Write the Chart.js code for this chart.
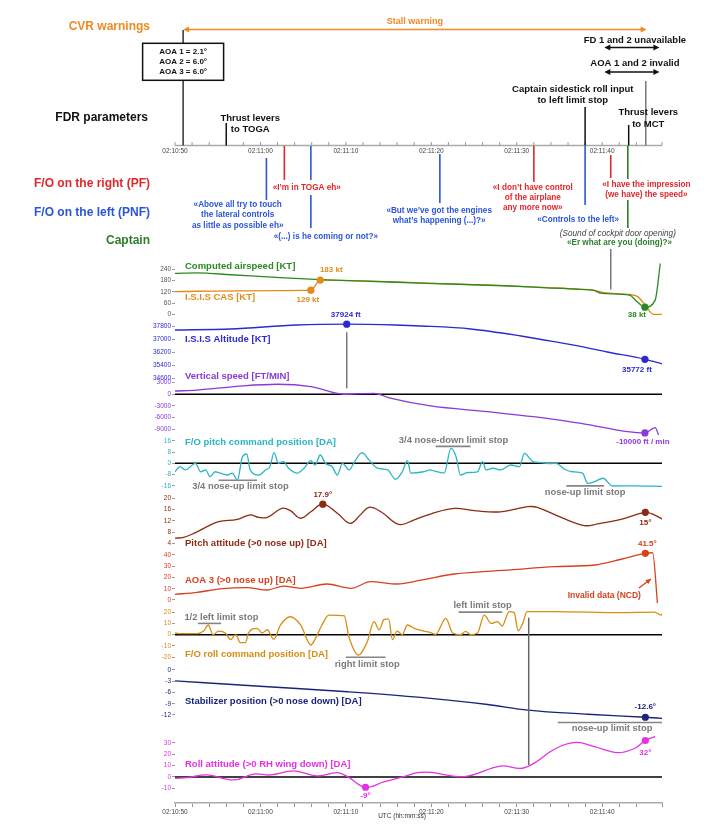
<!DOCTYPE html>
<html>
<head>
<meta charset="utf-8">
<title>AF447 FDR / CVR</title>
<script src="https://cdn.jsdelivr.net/npm/chart.js@4.4.1/dist/chart.umd.min.js"></script>
<style>
  html, body { margin: 0; padding: 0; background: #fff; }
  #wrap { width: 720px; height: 832px; }
</style>
</head>
<body>
<div id="wrap"><canvas id="fdr"></canvas></div>
<script>
// time in seconds after 02:10:50 UTC
const timeLabels = ['02:10:50', '02:11:00', '02:11:10', '02:11:20', '02:11:30', '02:11:40'];

// CVR / FDR events (seconds)
const stallWarning = [0.95, 55.2];
const aoaBoxLines = ['AOA 1 = 2.1°', 'AOA 2 = 6.0°', 'AOA 3 = 6.0°'];
const fdrTimes = [6.0, 48.0, 53.1];
const fdrLabels = [['Thrust levers', 'to TOGA'], ['Captain sidestick roll input', 'to left limit stop'], ['Thrust levers', 'to MCT']];
const fdSpan = [50.25, 56.7];
const aoaInvalidTime = 55.1;
const pfTimes = [12.8, 42.0, 51.0];
const pfQuotes = [['«I’m in TOGA eh»'], ['«I don’t have control', 'of the airplane', 'any more now»'], ['«I have the impression', '(we have) the speed»']];
const pnfTimes = [10.7, 15.9, 31.0, 48.0];
const pnfQuotes = [['«Above all try to touch', 'the lateral controls', 'as little as possible eh»'], ['«(...) is he coming or not?»'], ['«But we’ve got the engines', 'what’s happening (...)?»'], ['«Controls to the left»']];
const captainTimes = [53.0];
const captainNote = '(Sound of cockpit door opening)';
const captainQuote = '«Er what are you (doing)?»';
const doorTime = 51.0;
const altPeakTime = 20.1;
const rollInputTime = 41.4;

// FDR series
const speedTime = [0, 2.6, 6.5, 12.3, 17.0, 22.1, 29.5, 38.5, 43.0, 47.5, 49.0, 50.0, 53.2, 54.1, 55.0, 56.2, 56.8];
const speedValue = [219, 222, 212, 196, 186, 178, 166, 153, 143, 133, 128, 112, 103, 67, 38, 76, 272];
const casTime = [0, 8.0, 15.9, 17.0, 22.1, 29.5, 38.5, 43.0, 47.5, 49.0, 50.2, 53.2, 54.1, 55.0, 55.6, 56.0, 57.0];
const casValue = [122, 126, 129, 183, 179, 167, 154, 144, 134, 129, 116, 106, 96, 52, 14, 0, 0];
const altTime = [0, 6.5, 14.3, 20.1, 25.8, 28.8, 34.6, 40.5, 44.4, 48.3, 50.6, 55.0, 57.1];
const altValue = [37568, 37630, 37875, 37924, 37875, 37814, 37630, 37200, 36850, 36470, 36220, 35772, 35480];
const vsTime = [0, 2.6, 8.0, 12.0, 15.9, 19.8, 21.5, 23.3, 25.2, 29.9, 36.6, 42.0, 47.5, 55.0, 56.2, 56.6];
const vsValue = [850, 1100, 2200, 2600, 2000, 0, 150, 250, -1000, -3000, -4500, -5800, -7500, -10000, -8600, -10500];
const pitchCmdTime = [0, 0.6, 1.2, 2.4, 3.0, 3.6, 4.1, 4.7, 5.3, 6.1, 6.7, 7.3, 7.9, 8.4, 8.8, 9.8, 10.6, 11.1, 11.6, 12.1,
  12.7, 13.3, 14.3, 15.1, 15.9, 16.4, 17.0, 17.6, 18.4, 19.0, 19.6, 20.4, 20.9, 21.9, 22.7, 23.7, 24.9, 25.8, 26.6, 27.2,
  27.6, 29.1, 29.9, 30.3, 31.5, 32.3, 32.9, 33.4, 34.2, 35.4, 36.0, 36.4, 37.2, 38.1, 39.3, 40.3, 40.9, 41.9, 42.8, 44.0,
  44.6, 45.6, 46.5, 47.7, 48.3, 49.1, 50.1, 51.2, 53.7, 57.1];
const pitchCmdValue = [-6, -2.4, -4.7, 0, -6, -4.7, -9.5, -6, -7, -8.3, -7, -11.8, 4.7, 6.6, -4.7, -8.3, -4.7, -2.4, 7.5, 0,
  1.2, -3.5, -7, -3.5, 1.9, -1.2, 5.9, 0, -2.4, -8.3, 0, -4.7, 0, 7.5, 2.4, -3.5, -4.7, -11.3, -6, 1.9,
  -7, -6, -4.7, -5.4, -7, 10.6, 4.7, -8.3, -6.6, -6, 1.2, -4.7, -3.5, -4.7, -1.2, -2.4, 7, 1.2, 0.5, -0.2,
  0, -4.2, -6, -7, -14.2, -13, -10.6, -16.1, -16, -16.4];
const pitchTime = [0, 1.0, 2.2, 3.75, 5.1, 7.3, 8.8, 9.8, 10.8, 12.5, 13.5, 14.7, 15.9, 17.3, 19.0, 20.5, 21.7, 22.7, 24.1,
  26.2, 28.0, 29.9, 32.7, 35.0, 38.1, 41.3, 42.4, 45.2, 47.9, 49.5, 52.2, 55.05, 56.1, 57.1];
const pitchValue = [5.8, 6.1, 7.5, 9.9, 11.7, 12.5, 14.1, 13.2, 13.2, 16.4, 15.6, 12.9, 15.2, 17.9, 14.7, 11.1, 14.1, 16.8, 15.2,
  10.7, 12.3, 14.4, 16.4, 15.6, 15.2, 17.0, 16.8, 13.2, 10.3, 10.9, 12.5, 15, 14.1, 12.5];
const aoaTime = [0, 2.6, 5.3, 8.4, 10.8, 12.7, 14.7, 17.8, 20.6, 22.9, 26.0, 28.8, 32.7, 39.3, 44.4, 49.1, 52.2, 55.05, 55.9, 56.5];
const aoaValue = [5.0, 6.8, 9.8, 11.0, 8.9, 12.4, 10.4, 14.2, 10.4, 16.3, 14.2, 17.6, 23.1, 26.7, 29.6, 31.1, 36.2, 41.5, 42.0, -6.0];
const rollCmdTime = [0, 0.6, 2.6, 3.35, 3.9, 4.45, 5.1, 5.9, 6.5, 7.1, 7.65, 8.25, 8.6, 9.6, 10.2, 10.8, 11.55, 12.35, 13.5, 14.7,
  15.9, 16.45, 17.2, 18.0, 19.8, 20.35, 21.5, 22.5, 23.3, 23.9, 24.45, 25.0, 25.45, 26.0, 26.6, 27.2, 28.0, 29.15, 29.9, 30.5,
  31.7, 32.5, 33.45, 34.0, 34.6, 35.4, 36.2, 37.0, 37.75, 38.3, 39.1, 39.7, 40.15, 40.7, 41.2, 44.4, 52.2, 56.1, 56.9, 57.1];
const rollCmdValue = [1.8, 0.9, 0.9, 3.2, 8.6, 0, 3.2, 1.5, -4.4, 0, -7, -7, 1.5, 5.6, 1.5, 4.4, -4.1, 8.6, 15.9, 8.6,
  -9.1, -3.2, 8.6, 17.4, 16.8, -1.8, -18, -6.2, 11.5, 4.4, 13.3, 14, -4.4, 3.2, 0, 8.6, 5.6, 3.2, 1.8, 0.3,
  14.5, 1.5, 0, 2.9, 0, 1.5, 17.4, 10, 11.5, 7.7, 20.4, 19.5, 3.5, 10, 20.4, 20.4, 19.5, 20, 17.4, 19.5];
const stabTime = [0, 10.4, 20.2, 28.75, 36.6, 41.3, 48.3, 55.05, 57.1];
const stabValue = [-2.9, -4.4, -5.8, -7.3, -9.2, -10.7, -11.8, -12.6, -12.9];
const rollTime = [0, 1.4, 3.75, 6.9, 9.2, 11.2, 13.9, 16.6, 19.0, 20.2, 22.3, 24.5, 26.8, 28.4, 29.9, 33.8, 38.1, 40.5, 42.0,
  44.4, 46.9, 49.1, 51.8, 53.8, 55.05, 56.2];
const rollValue = [-1.2, -0.6, 1.8, -2.6, 2.6, 1.8, 5.3, 0.9, 3.8, 0.3, -9, -4.1, 0.3, 3.8, 4.1, 0.3, 9.6, 7.6, 12,
  24.3, 30.4, 26.6, 21.3, 25, 32, 35.4];

// marked points
const casMarkTime = [15.9, 17.0];
const casMarkValue = [129, 183];
const casMarkLabel = ['129 kt', '183 kt'];
const speedMarkTime = [55.0];
const speedMarkValue = [38];
const speedMarkLabel = ['38 kt'];
const altMarkTime = [20.1, 55.0];
const altMarkValue = [37924, 35772];
const altMarkLabel = ['37924 ft', '35772 ft'];
const vsMarkTime = [55.0];
const vsMarkValue = [-10000];
const vsMarkLabel = ['-10000 ft / min'];
const pitchMarkTime = [17.3, 55.05];
const pitchMarkValue = [17.9, 15];
const pitchMarkLabel = ['17.9°', '15°'];
const aoaMarkTime = [55.05];
const aoaMarkValue = [41.5];
const aoaMarkLabel = ['41.5°'];
const stabMarkTime = [55.05];
const stabMarkValue = [-12.6];
const stabMarkLabel = ['-12.6°'];
const rollMarkTime = [22.3, 55.05];
const rollMarkValue = [-9, 32];
const rollMarkLabel = ['-9°', '32°'];

// limit stops
const pitchStopStart = [5.1, 30.5, 45.8];
const pitchStopEnd = [9.6, 34.6, 50.2];
const pitchStopValue = [-12, 12, -16];
const pitchStopLabel = ['3/4 nose-up limit stop', '3/4 nose-down limit stop', 'nose-up limit stop'];
const rollStopStart = [2.7, 20.0, 33.2];
const rollStopEnd = [5.4, 24.65, 38.3];
const rollStopValue = [10, -20, 20];
const rollStopLabel = ['1/2 left limit stop', 'right limit stop', 'left limit stop'];
const stabStopStart = [44.8];
const stabStopEnd = [57];
const stabStopValue = [-14];
const stabStopLabel = ['nose-up limit stop'];

const FONT = '"Liberation Sans", Arial, sans-serif';
Chart.defaults.font.family = FONT;

const col = {
  cvr: '#f08a22', pf: '#e3262b', pnf: '#2a55d8', capt: '#2c7d2c', stop: '#858585',
  speed: '#2a8a22', cas: '#e08c1c', alt: '#2a2ad0', vs: '#8a3ad8', pcmd: '#2ab6c2',
  pitch: '#8b2c12', aoa: '#d8401c', rcmd: '#d88c12', stab: '#1a2478', roll: '#e232e2'
};

const zip = (ts, vs) => ts.map((t, i) => ({ x: t, y: vs[i] }));

function series(ts, vs, axis, color, smooth) {
  const ds = { data: zip(ts, vs), yAxisID: axis, borderColor: color, borderWidth: 1.3,
    pointRadius: 0, fill: false };
  if (smooth) ds.tension = 0.4;
  else ds.cubicInterpolationMode = 'monotone';
  return ds;
}
function marks(ts, vs, axis, color) {
  return { data: zip(ts, vs), yAxisID: axis, showLine: false, pointRadius: 3.6,
    pointBackgroundColor: color, pointBorderColor: color, pointBorderWidth: 0 };
}
function hline(t0, t1, v, axis, color, w) {
  return { data: zip([t0, t1], [v, v]), yAxisID: axis, borderColor: color, borderWidth: w, pointRadius: 0 };
}

const datasets = [
  marks(casMarkTime, casMarkValue, 'speed', col.cas),
  marks(speedMarkTime, speedMarkValue, 'speed', col.speed),
  marks(altMarkTime, altMarkValue, 'alt', col.alt),
  marks(vsMarkTime, vsMarkValue, 'vs', col.vs),
  marks(pitchMarkTime, pitchMarkValue, 'pitch', col.pitch),
  marks(aoaMarkTime, aoaMarkValue, 'aoa', col.aoa),
  marks(stabMarkTime, stabMarkValue, 'stab', col.stab),
  marks(rollMarkTime, rollMarkValue, 'roll', col.roll),
  series(speedTime, speedValue, 'speed', col.speed),
  series(casTime, casValue, 'speed', col.cas),
  series(altTime, altValue, 'alt', col.alt),
  series(vsTime, vsValue, 'vs', col.vs),
  series(pitchCmdTime, pitchCmdValue, 'pcmd', col.pcmd),
  series(pitchTime, pitchValue, 'pitch', col.pitch, true),
  series(aoaTime, aoaValue, 'aoa', col.aoa),
  series(rollCmdTime, rollCmdValue, 'rcmd', col.rcmd),
  series(stabTime, stabValue, 'stab', col.stab),
  series(rollTime, rollValue, 'roll', col.roll, true)
];
pitchStopValue.forEach((v, i) => datasets.push(hline(pitchStopStart[i], pitchStopEnd[i], v, 'pcmd', col.stop, 1.6)));
rollStopValue.forEach((v, i) => datasets.push(hline(rollStopStart[i], rollStopEnd[i], v, 'rcmd', col.stop, 1.6)));
stabStopValue.forEach((v, i) => datasets.push(hline(stabStopStart[i], stabStopEnd[i], v, 'stab', col.stop, 1.6)));
['vs', 'pcmd', 'rcmd', 'roll'].forEach(id => datasets.push(hline(0, 57, 0, id, '#000', 1.6)));

function strip(weight, stackWeight, min, max, ticks, color) {
  return {
    type: 'linear', position: 'left', stack: 'fdr', stackWeight, weight, min, max,
    border: { display: false },
    grid: { drawOnChartArea: false, drawTicks: true, tickLength: 3, color: '#999' },
    ticks: { color, font: { size: 6.5 }, padding: 1, autoSkip: false, callback: v => String(v) },
    afterBuildTicks: s => { s.ticks = ticks.map(v => ({ value: v })); },
    afterFit: s => { s.width = 40; }
  };
}

function text(ctx, s, x, y, color, size, style, align) {
  ctx.save();
  ctx.font = (style || 'bold') + ' ' + size + 'px ' + FONT;
  ctx.fillStyle = color;
  ctx.textAlign = align || 'center';
  ctx.textBaseline = 'middle';
  ctx.fillText(s, x, y);
  ctx.restore();
}
function seg(ctx, x1, y1, x2, y2, color, w) {
  ctx.save();
  ctx.strokeStyle = color; ctx.lineWidth = w || 1.5;
  ctx.beginPath(); ctx.moveTo(x1, y1); ctx.lineTo(x2, y2); ctx.stroke();
  ctx.restore();
}
function head(ctx, x1, y1, x2, y2, color, len, half) {
  const a = Math.atan2(y2 - y1, x2 - x1);
  const c = Math.cos(a), s = Math.sin(a);
  ctx.save(); ctx.fillStyle = color; ctx.beginPath();
  ctx.moveTo(x2, y2);
  ctx.lineTo(x2 - len * c + half * s, y2 - len * s - half * c);
  ctx.lineTo(x2 - len * c - half * s, y2 - len * s + half * c);
  ctx.closePath(); ctx.fill(); ctx.restore();
}
function dblArrow(ctx, x1, x2, y, color) {
  seg(ctx, x1 + 3, y, x2 - 3, y, color, 1.5);
  head(ctx, x2, y, x1, y, color, 6, 3);
  head(ctx, x1, y, x2, y, color, 6, 3);
}

const overlay = {
  id: 'overlay',
  afterDraw(chart) {
    const ctx = chart.ctx;
    const xs = chart.scales.x;
    const X = t => xs.getPixelForValue(t);
    const Y = (id, v) => chart.scales[id].getPixelForValue(v);
    const ca = chart.chartArea;

    // row headings
    text(ctx, 'CVR warnings', 150, 27, col.cvr, 12, 'bold', 'right');
    text(ctx, 'FDR parameters', 148, 118, '#111', 12, 'bold', 'right');
    text(ctx, 'F/O on the right (PF)', 150, 184, col.pf, 12, 'bold', 'right');
    text(ctx, 'F/O on the left (PNF)', 150, 212.7, col.pnf, 12, 'bold', 'right');
    text(ctx, 'Captain', 150, 241, col.capt, 12, 'bold', 'right');

    // top timeline
    const ty = 145.5;
    seg(ctx, ca.left, ty, ca.right, ty, '#aaa', 1.5);
    xs.ticks.forEach(tk => {
      seg(ctx, X(tk.value), ty - 3.5, X(tk.value), ty, '#999', 1);
      if (tk.value % 10 === 0) text(ctx, timeLabels[tk.value / 10], X(tk.value), 151, '#444', 6.5, 'normal');
    });

    // stall warning
    const s0 = X(stallWarning[0]), s1 = X(stallWarning[1]);
    seg(ctx, s0 + 3, 29.5, s1 - 3, 29.5, col.cvr, 1.5);
    head(ctx, s1, 29.5, s0, 29.5, col.cvr, 6, 3);
    head(ctx, s0, 29.5, s1, 29.5, col.cvr, 6, 3);
    text(ctx, 'Stall warning', (s0 + s1) / 2, 21.5, col.cvr, 9, 'bold');
    seg(ctx, s0, 30, s0, 43.3, '#333', 1.5);
    seg(ctx, s0, 80.3, s0, ty, '#333', 1.5);
    ctx.save(); ctx.strokeStyle = '#111'; ctx.lineWidth = 1.5;
    ctx.strokeRect(s0 - 40.5, 43.3, 81, 37); ctx.restore();
    aoaBoxLines.forEach((s, i) => text(ctx, s, s0, 51.7 + 10 * i, '#111', 8, 'bold'));

    // FD / AOA invalid
    const f0 = X(fdSpan[0]), f1 = X(fdSpan[1]);
    text(ctx, 'FD 1 and 2 unavailable', (f0 + f1) / 2 + 3, 40, '#111', 9.5, 'bold');
    dblArrow(ctx, f0, f1, 47.5, '#111');
    text(ctx, 'AOA 1 and 2 invalid', (f0 + f1) / 2 + 3, 63.3, '#111', 9.5, 'bold');
    dblArrow(ctx, f0, f1, 72, '#111');
    seg(ctx, X(aoaInvalidTime), 81, X(aoaInvalidTime), ty, '#777', 1.5);

    // FDR events
    const fdrLay = [{ y0: 123, dx: 24, ys: [118, 129.3] }, { y0: 107, dx: -12.3, ys: [89, 100.3] }, { y0: 125, dx: 19.6, ys: [112.7, 124] }];
    fdrTimes.forEach((t, i) => {
      const L = fdrLay[i];
      seg(ctx, X(t), L.y0, X(t), ty, '#111', 1.5);
      fdrLabels[i].forEach((s, j) => text(ctx, s, X(t) + L.dx, L.ys[j], '#111', 9.5, 'bold'));
    });

    // CVR voices
    const pfLay = [{ segs: [[146, 180]], dx: 22.4, ys: [187.3] }, { segs: [[146, 182]], dx: -1, ys: [187.3, 197.3, 207.7] },
      { segs: [[155, 178]], dx: 35.7, ys: [184.7, 194.7] }];
    const pnfLay = [{ segs: [[158, 200]], dx: -28.7, ys: [205, 215, 225.3] }, { segs: [[146, 180], [195, 228]], dx: 15, ys: [236.7] },
      { segs: [[154, 203]], dx: -0.7, ys: [210.7, 220.3] }, { segs: [[146, 205]], dx: -7, ys: [219.7] }];
    const voice = (times, quotes, lay, color) => times.forEach((t, i) => {
      lay[i].segs.forEach(sg => seg(ctx, X(t), sg[0], X(t), sg[1], color, 1.6));
      quotes[i].forEach((s, j) => text(ctx, s, X(t) + lay[i].dx, lay[i].ys[j], color, 8.2, 'bold'));
    });
    voice(pnfTimes, pnfQuotes, pnfLay, col.pnf);
    voice(pfTimes, pfQuotes, pfLay, col.pf);
    captainTimes.forEach(t => {
      seg(ctx, X(t), 146, X(t), 179, col.capt, 1.6);
      seg(ctx, X(t), 200, X(t), 228, col.capt, 1.6);
      text(ctx, captainNote, X(t) - 10, 233.7, '#444', 8.2, 'italic');
      text(ctx, captainQuote, X(t) - 8.4, 242.7, col.capt, 8.2, 'bold');
    });
    seg(ctx, X(doorTime), 249, X(doorTime), Y('speed', 133), '#777', 1.5);

    // vertical connectors inside the strips
    seg(ctx, X(altPeakTime), Y('alt', 37924) + 8, X(altPeakTime), Y('vs', 0) - 6, '#777', 1.5);
    seg(ctx, X(rollInputTime), Y('rcmd', 15), X(rollInputTime), Y('roll', 10.5), '#666', 1.5);

    // strip titles
    const lx = ca.left + 10;
    text(ctx, 'Computed airspeed [KT]', lx, 266.7, col.speed, 9.5, 'bold', 'left');
    text(ctx, 'I.S.I.S CAS [KT]', lx, 297.7, col.cas, 9.5, 'bold', 'left');
    text(ctx, 'I.S.I.S Altitude [KT]', lx, 339.3, col.alt, 9.5, 'bold', 'left');
    text(ctx, 'Vertical speed [FT/MIN]', lx, 376.7, col.vs, 9.5, 'bold', 'left');
    text(ctx, 'F/O pitch command position [DA]', lx, 442.7, col.pcmd, 9.5, 'bold', 'left');
    text(ctx, 'Pitch attitude (>0 nose up) [DA]', lx, 543.3, col.pitch, 9.5, 'bold', 'left');
    text(ctx, 'AOA 3 (>0 nose up) [DA]', lx, 580.7, col.aoa, 9.5, 'bold', 'left');
    text(ctx, 'F/O roll command position [DA]', lx, 654, col.rcmd, 9.5, 'bold', 'left');
    text(ctx, 'Stabilizer position (>0 nose down) [DA]', lx, 701, col.stab, 9.5, 'bold', 'left');
    text(ctx, 'Roll attitude (>0 RH wing down) [DA]', lx, 764.3, col.roll, 9.5, 'bold', 'left');

    // value labels next to marked points
    const valueLabels = (ts, vs, labels, axis, color, offs) => ts.forEach((t, i) =>
      text(ctx, labels[i], X(t) + offs[i][0], Y(axis, vs[i]) + offs[i][1], color, 8, 'bold'));
    valueLabels(casMarkTime, casMarkValue, casMarkLabel, 'speed', col.cas, [[-3, 10], [11, -10]]);
    valueLabels(speedMarkTime, speedMarkValue, speedMarkLabel, 'speed', col.speed, [[-8, 8]]);
    valueLabels(altMarkTime, altMarkValue, altMarkLabel, 'alt', col.alt, [[-1, -9], [-8, 10]]);
    valueLabels(vsMarkTime, vsMarkValue, vsMarkLabel, 'vs', col.vs, [[-2, 9.3]]);
    valueLabels(pitchMarkTime, pitchMarkValue, pitchMarkLabel, 'pitch', col.pitch, [[0, -9], [0, 10]]);
    valueLabels(aoaMarkTime, aoaMarkValue, aoaMarkLabel, 'aoa', col.aoa, [[2, -9]]);
    valueLabels(stabMarkTime, stabMarkValue, stabMarkLabel, 'stab', col.stab, [[0, -10]]);
    valueLabels(rollMarkTime, rollMarkValue, rollMarkLabel, 'roll', col.roll, [[0, 9], [0, 12]]);

    // limit stop captions
    const stopCaption = (labels, vs, axis, at) => labels.forEach((s, i) =>
      text(ctx, s, X(at[i][0]), Y(axis, vs[i]) + at[i][1], '#7a7a7a', 9.4, 'bold'));
    stopCaption(pitchStopLabel, pitchStopValue, 'pcmd', [[7.66, 6.5], [32.6, -5.5], [48.0, 6.5]]);
    stopCaption(rollStopLabel, rollStopValue, 'rcmd', [[5.43, -5.5], [22.5, 7], [36.0, -7]]);
    stopCaption(stabStopLabel, stabStopValue, 'stab', [[51.15, 6]]);

    // invalid AOA data
    text(ctx, 'Invalid data (NCD)', X(50.25), Y('aoa', 3.8), col.aoa, 8.5, 'bold');
    const a0x = X(54.3), a0y = Y('aoa', 10.7), a1x = X(55.7), a1y = Y('aoa', 18.7);
    seg(ctx, a0x, a0y, a1x, a1y, col.aoa, 1.3);
    head(ctx, a0x, a0y, a1x, a1y, col.aoa, 5, 2.5);

    text(ctx, 'UTC (hh:mm:ss)', 402, 816, '#333', 6.5, 'normal');
  }
};

new Chart(document.getElementById('fdr'), {
  type: 'line',
  data: { datasets },
  options: {
    responsive: true,
    maintainAspectRatio: false,
    animation: false,
    layout: { padding: { top: 258, left: 135, right: 58, bottom: 0 } },
    plugins: { legend: { display: false }, tooltip: { enabled: false } },
    scales: {
      x: {
        type: 'linear', position: 'bottom', min: 0, max: 57,
        border: { color: '#aaa', width: 1.5 },
        grid: { drawOnChartArea: false, drawTicks: true, tickLength: 4, color: '#999' },
        ticks: { stepSize: 2, autoSkip: false, maxRotation: 0, font: { size: 6.5 }, color: '#444', padding: 1,
          callback: v => (v % 10 === 0 ? timeLabels[v / 10] : '') },
        afterFit: s => { s.height = 29; }
      },
      speed: strip(9, 60, -19.8, 301.6, [0, 60, 120, 180, 240], '#555'),
      alt: strip(8, 62, 34503, 38304, [34600, 35400, 36200, 37000, 37800], col.alt),
      vs: strip(7, 57, -11042, 3698, [-9000, -6000, -3000, 0, 3000], col.vs),
      pcmd: strip(6, 55, -20.35, 18.65, [-16, -8, 0, 8, 16], col.pcmd),
      pitch: strip(5, 56, 2.31, 22.24, [4, 8, 12, 16, 20], col.pitch),
      aoa: strip(4, 55, -2.67, 46.2, [0, 10, 20, 30, 40], col.aoa),
      rcmd: strip(3, 59, -24.16, 28.05, [-20, -10, 0, 10, 20], col.rcmd),
      stab: strip(2, 72, -17.07, 2.13, [-12, -9, -6, -3, 0], col.stab),
      roll: strip(1, 69, -22.8, 37.7, [-10, 0, 10, 20, 30], col.roll)
    }
  },
  plugins: [overlay]
});
</script>
</body>
</html>
